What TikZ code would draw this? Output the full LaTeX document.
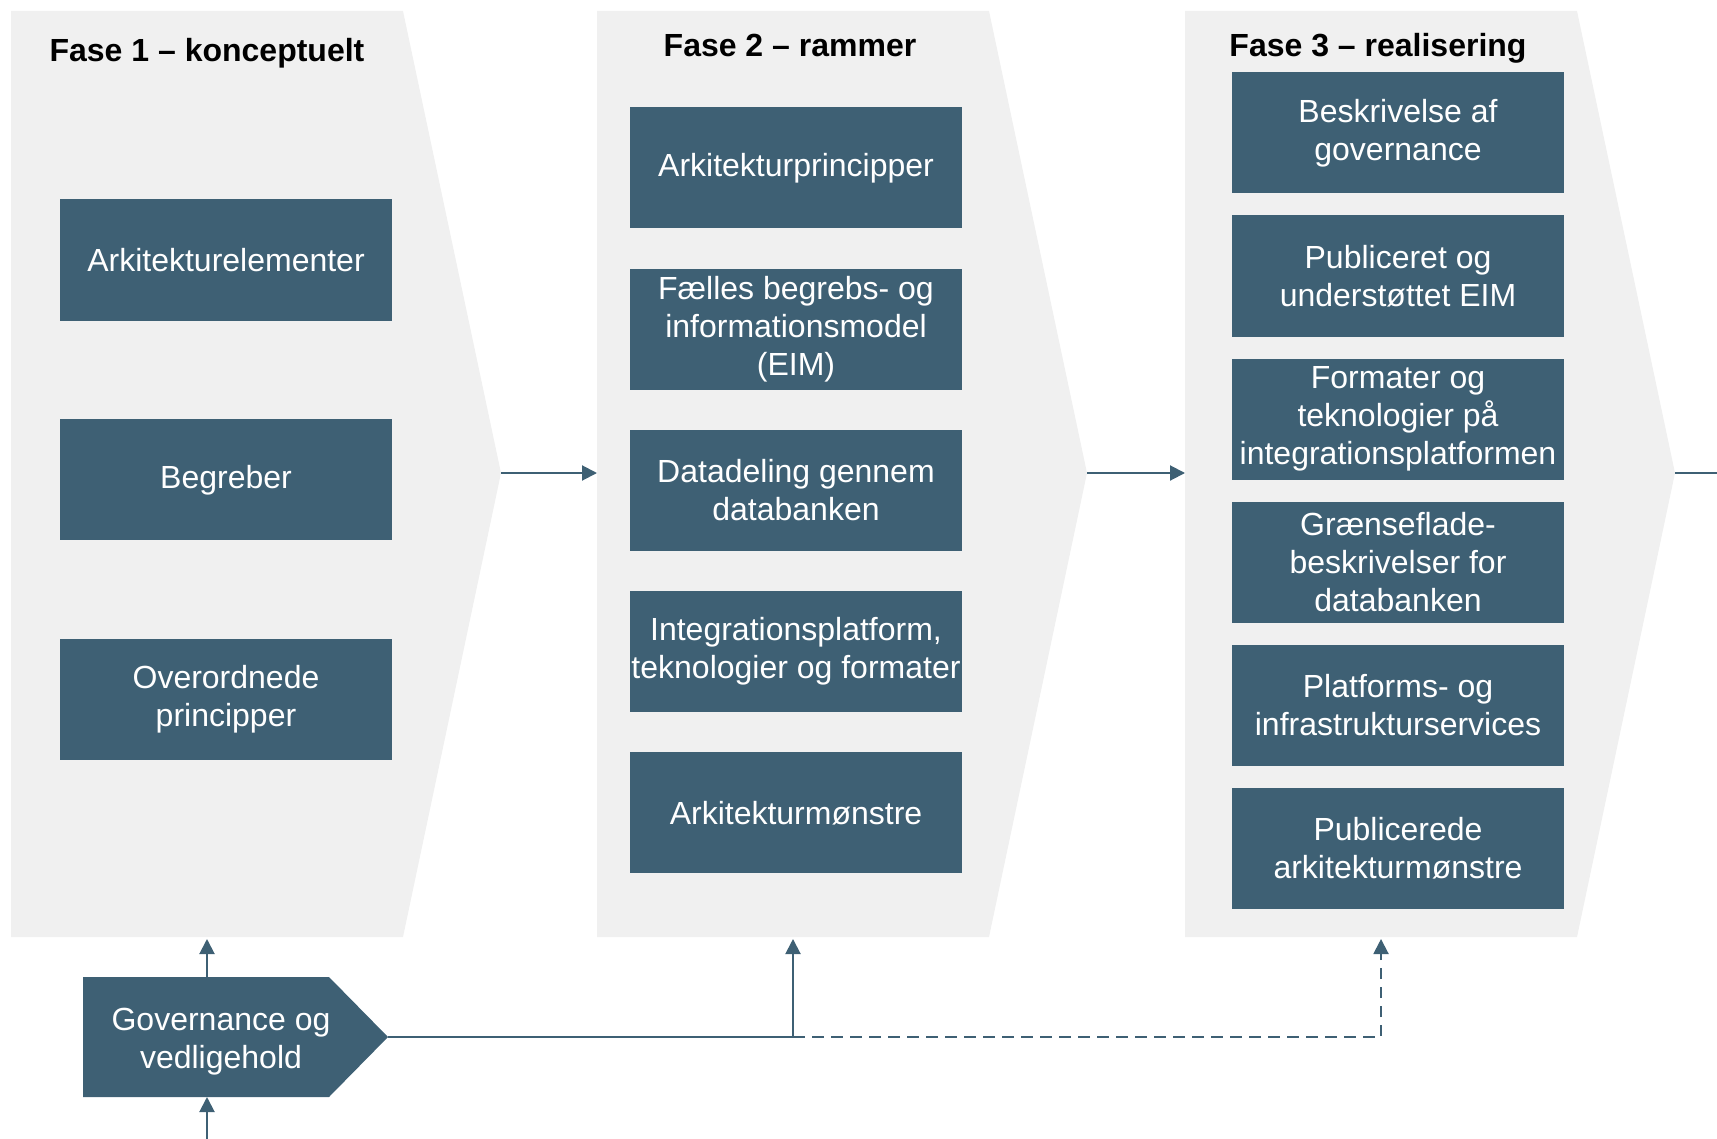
\documentclass[tikz,border=0pt]{standalone}
\usepackage{fontspec}
\setmainfont{Liberation Sans}
\usetikzlibrary{arrows.meta}
\usetikzlibrary{positioning}
\usetikzlibrary{quotes}

\definecolor{boxblue}{HTML}{3E6074}
\definecolor{phasegrey}{HTML}{F0F0F0}

\begin{document}
\begin{tikzpicture}[
		x=0.5pt,y=-0.5pt,
		>={Triangle[length=7.5pt,width=7.5pt]},
		font=\fontsize{16}{19}\selectfont,
		phase title/.style={},
		phase/.pic={
			\coordinate (-W) at (0,462);
			\coordinate (-E) at (490,462);
			\coordinate (-S) at (196,928);
			\fill [pic actions] (0,0) -- (392,0) -- (490,462) -- (392,926) -- (0,926) --cycle;
			\node [anchor=base,font=\fontsize{16}{19}\selectfont\bfseries,phase title] (-title) at (193,46) {\tikzpictext};
		},
		gov/.pic={
			\coordinate (-N) at (124,0);
			\coordinate (-S) at (124,120);
			\coordinate (-E) at (305,60);
			\fill [pic actions] (0,0) -- (246,0) -- (305,60) -- (246,120) -- (0,120) --cycle;
			\node [text=white,align=center] (-text) at (138,65) {Governance og\\vedligehold};
		},
		item/.style={fill=boxblue,text=white,minimum width=166pt,minimum height=60.5pt,inner sep=0pt,align=center},
		flow/.style={draw=boxblue,line width=1pt}
	]
	\useasboundingbox (0,0) rectangle (1717,1139);

	\pic ["Fase 1 – konceptuelt",fill=phasegrey,phase title/.style={xshift=1.5pt,yshift=-2.5pt}] (ph1) at (11,11) {phase};
	\pic ["Fase 2 – rammer",fill=phasegrey] (ph2) at (597,11) {phase};
	\pic ["Fase 3 – realisering",fill=phasegrey] (ph3) at (1185,11) {phase};

	% fase 1
	\node [item] (fase1a) at (226,260) {Arkitekturelementer};
	\node [item,below=49pt of fase1a] (fase1b) {Begreber};
	\node [item,below=49pt of fase1b] (fase1c) {Overordnede\\principper};

	% fase 2
	\node [item] (fase2a) at (796,168) {Arkitekturprincipper};
	\node [item,below=19.7pt of fase2a] (fase2b) {Fælles begrebs- og\\informationsmodel\\(EIM)};
	\node [item,below=19.7pt of fase2b] (fase2c) {Datadeling gennem\\databanken};
	\node [item,below=19.7pt of fase2c] (fase2d) {Integrationsplatform,\\teknologier og formater};
	\node [item,below=19.7pt of fase2d] (fase2e) {Arkitekturmønstre};

	% fase 3
	\node [item] (fase3a) at (1398,133) {Beskrivelse af\\governance};
	\node [item,below=10.6pt of fase3a] (fase3b) {Publiceret og\\understøttet EIM};
	\node [item,below=10.6pt of fase3b] (fase3c) {Formater og\\teknologier på\\integrationsplatformen};
	\node [item,below=10.6pt of fase3c] (fase3d) {Grænseflade-\\beskrivelser for\\databanken};
	\node [item,below=10.6pt of fase3d] (fase3e) {Platforms- og\\infrastrukturservices};
	\node [item,below=10.6pt of fase3e] (fase3f) {Publicerede\\arkitekturmønstre};

	\pic [fill=boxblue] (gov) at (83,977) {gov};

	\draw [flow,->] (ph1-E) -- (ph2-W);
	\draw [flow,->] (ph2-E) -- (ph3-W);
	\coordinate (out) at (1717,473);
	\draw [flow] (ph3-E) -- (out);

	\coordinate (feed) at (207,1139);
	\draw [flow,->] (feed) -- (gov-S);
	\draw [flow,->] (gov-N) -- (ph1-S);
	\coordinate (split) at (ph2-S |- gov-E);
	\draw [flow] (gov-E) -- (split);
	\draw [flow,->] (split) -- (ph2-S);
	\draw [flow,->,dash pattern=on 5.75pt off 3.75pt] (split) -- (ph3-S |- split) -- (ph3-S);
\end{tikzpicture}
\end{document}
